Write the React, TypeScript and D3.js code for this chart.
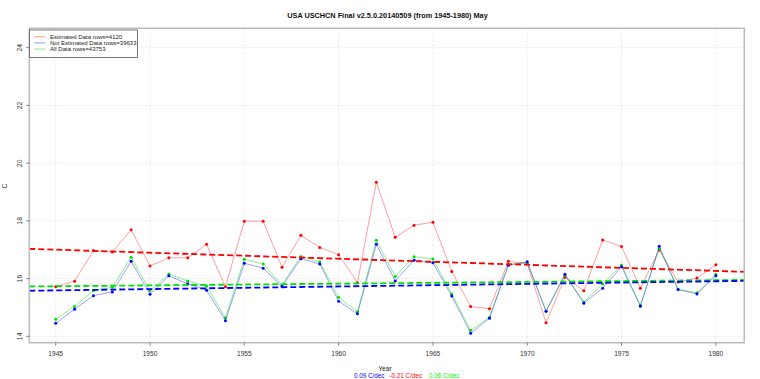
import React from "react";
import * as d3 from "d3";

const years = d3.range(1945, 1981);
// Estimated data (red)
const estimated = [15.72, 15.91, 16.97, 16.92, 17.69, 16.44, 16.72, 16.72, 17.19, 15.72, 17.99, 17.99, 16.39, 17.50, 17.08, 16.83, 15.86, 19.34, 17.43, 17.85, 17.95, 16.25, 15.03, 14.96, 16.60, 16.52, 14.47, 16.05, 15.58, 17.34, 17.11, 15.67, 16.99, 15.88, 16.02, 16.48];
// Not estimated data (blue)
const notEstimated = [14.45, 14.94, 15.41, 15.54, 16.60, 15.46, 16.10, 15.82, 15.60, 14.54, 16.53, 16.36, 15.73, 16.69, 16.51, 15.22, 14.78, 17.19, 15.92, 16.64, 16.55, 15.40, 14.11, 14.63, 16.46, 16.58, 14.87, 16.15, 15.15, 15.67, 16.41, 15.04, 17.12, 15.62, 15.47, 16.10];
// All data (green)
const allData = [14.59, 15.03, 15.58, 15.70, 16.74, 15.58, 16.16, 15.92, 15.74, 14.64, 16.67, 16.51, 15.78, 16.77, 16.58, 15.35, 14.85, 17.33, 16.07, 16.76, 16.68, 15.47, 14.21, 14.66, 16.50, 16.55, 14.87, 16.11, 15.19, 15.81, 16.47, 15.08, 17.04, 15.63, 15.51, 16.15];

// trend lines: value at 1962.5 and slope per decade
const trendSeries = ["Estimated", "All", "NotEstimated"];
const trendMid = [16.635, 15.84, 15.75];
const trendSlopeDec = [-0.21, 0.06, 0.09];
const trendColors = ["#FF0000", "#00E000", "#0000FF"];

const xTicks = [1945, 1950, 1955, 1960, 1965, 1970, 1975, 1980];
const yTicks = [14, 16, 18, 20, 22, 24];

const legendLabels = ["Estimated Data rows=4120", "Not Estimated Data rows=39633", "All Data rows=43753"];
const legendColors = ["rgba(255,0,0,0.35)", "rgba(0,0,255,0.35)", "rgba(0,220,0,0.4)"];

const title = "USA USCHCN Final v2.5.0.20140509 (from 1945-1980) May";
const slopeLabels = ["0.09 C/dec", "-0.21 C/dec", "0.06 C/dec"];
const slopeColors = ["#0000FF", "#FF0000", "#00EE00"];

const FONT = "'Liberation Sans', Arial, Helvetica, sans-serif";

export default function App() {
  const W = 760, H = 379;
  const L = 29.3, R = 744.3, T = 28.3, B = 342.7;
  const x = d3.scaleLinear().domain([1943.6, 1981.51]).range([L, R]);
  const y = d3.scaleLinear().domain([13.78, 24.67]).range([B, T]);
  const line = d3.line<[number, number]>().x(d => x(d[0])).y(d => y(d[1]));

  const series = [
    { vals: estimated, line: "rgba(255,0,0,0.38)", pt: "#FF0000" },
    { vals: allData, line: "rgba(0,220,0,0.45)", pt: "#00E000" },
    { vals: notEstimated, line: "rgba(0,0,255,0.38)", pt: "#0000FF" },
  ];

  const [d0, d1] = x.domain();

  return (
    <svg width={W} height={H} style={{ position: "absolute", left: 0, top: 0, background: "#fff" }} fontFamily={FONT}>
      <defs>
        <clipPath id="plotclip">
          <rect x={L} y={T} width={R - L} height={B - T} />
        </clipPath>
      </defs>
      {/* grid */}
      {yTicks.map(t => (
        <line key={"gy" + t} x1={L} x2={R} y1={y(t)} y2={y(t)} stroke="#e2e2e2" strokeWidth={0.8} strokeDasharray="2,2" />
      ))}
      {xTicks.map(t => (
        <line key={"gx" + t} x1={x(t)} x2={x(t)} y1={T} y2={B} stroke="#e2e2e2" strokeWidth={0.8} strokeDasharray="2,2" />
      ))}
      {/* series */}
      {series.map((s, i) => {
        const pts = years.map((yr, j) => [yr, s.vals[j]] as [number, number]);
        return (
          <g key={"s" + i}>
            <path d={line(pts) || ""} fill="none" stroke={s.line} strokeWidth={1} />
            {pts.map((p, j) => (
              <circle key={j} cx={x(p[0])} cy={y(p[1])} r={1.5} fill={s.pt} />
            ))}
          </g>
        );
      })}
      {/* trends */}
      <g clipPath="url(#plotclip)">
        {trendSeries.map((n, i) => {
          const f = (yr: number) => trendMid[i] + (trendSlopeDec[i] / 10) * (yr - 1962.5);
          return (
            <line key={n} x1={x(d0)} x2={x(d1)} y1={y(f(d0))} y2={y(f(d1))} stroke={trendColors[i]} strokeWidth={1.8} strokeDasharray="6,3" />
          );
        })}
      </g>
      {/* box */}
      <rect x={L} y={T} width={R - L} height={B - T} fill="none" stroke="#bdbdbd" strokeWidth={1.6} />
      {/* y axis */}
      {yTicks.map(t => (
        <g key={"yt" + t}>
          <line x1={L - 3} x2={L} y1={y(t)} y2={y(t)} stroke="#666" strokeWidth={0.8} />
          <text transform={`translate(${21.5},${y(t)}) rotate(-90)`} textAnchor="middle" fontSize={6.8} fill="#333">{t}</text>
        </g>
      ))}
      <text transform={`translate(${7},${186}) rotate(-90)`} textAnchor="middle" fontSize={6.8} fill="#333">C</text>
      {/* x axis */}
      {xTicks.map(t => (
        <g key={"xt" + t}>
          <line x1={x(t)} x2={x(t)} y1={B} y2={B + 3} stroke="#666" strokeWidth={0.8} />
          <text x={x(t)} y={356} textAnchor="middle" fontSize={6.6} fill="#333">{t}</text>
        </g>
      ))}
      <text x={385} y={370.5} textAnchor="middle" fontSize={6.6} fill="#222">Year</text>
      {[354, 389.5, 429].map((px, i) => (
        <text key={"sl" + i} x={px} y={378} fontSize={6.3} fill={slopeColors[i]}>{slopeLabels[i]}</text>
      ))}
      {/* title */}
      <text x={387.5} y={17.5} textAnchor="middle" fontSize={7.3} fontWeight="bold" fill="#111">{title}</text>
      {/* legend */}
      <rect x={29.5} y={30} width={108} height={27.5} fill="#fff" stroke="#555" strokeWidth={0.8} />
      {legendLabels.map((lab, i) => (
        <g key={"lg" + i}>
          <line x1={34} x2={45} y1={36.7 + i * 6.2} y2={36.7 + i * 6.2} stroke={legendColors[i]} strokeWidth={1.2} />
          <text x={50} y={38.8 + i * 6.2} fontSize={6} fill="#222">{lab}</text>
        </g>
      ))}
    </svg>
  );
}
